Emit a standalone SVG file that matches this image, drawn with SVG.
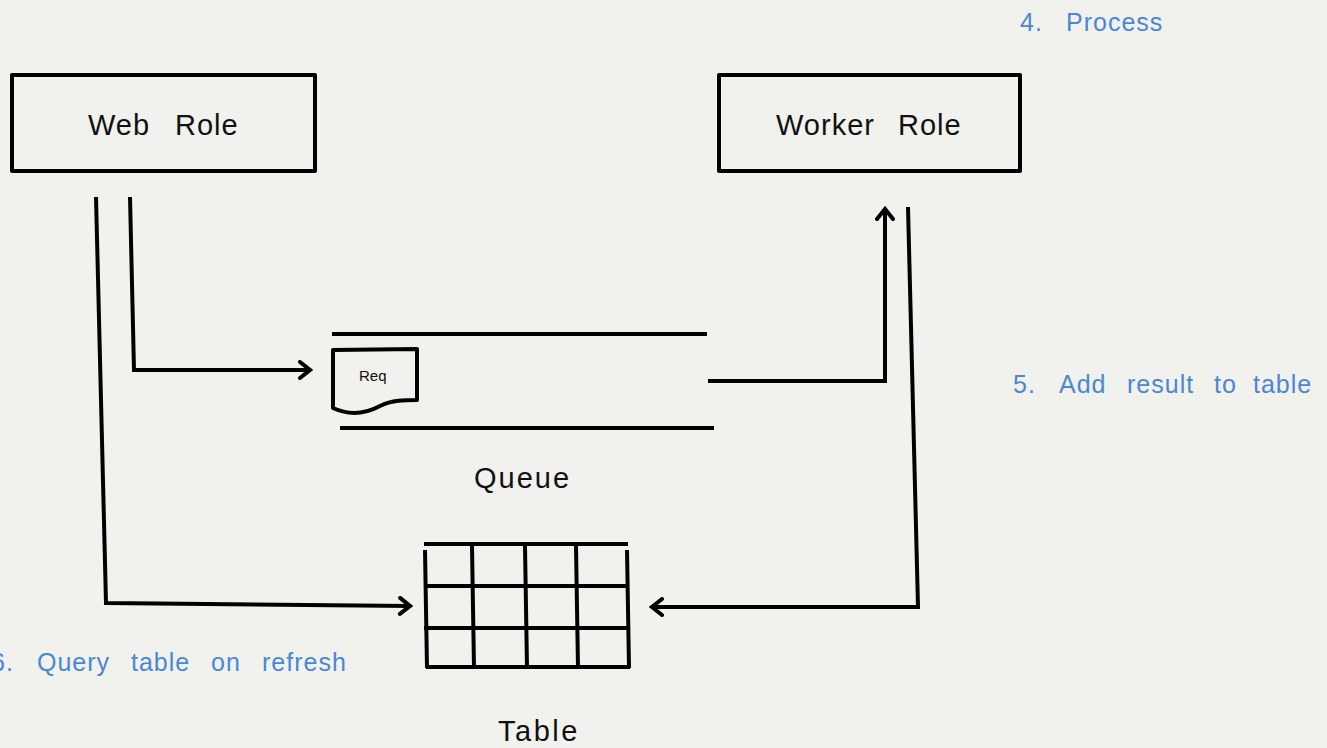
<svg xmlns="http://www.w3.org/2000/svg" width="1327" height="748" viewBox="0 0 1327 748">
<style>
.box{fill:none;stroke:#000;stroke-width:4;stroke-linejoin:round}
.ln{fill:none;stroke:#000;stroke-width:4;stroke-linejoin:miter}
.lbl{font-family:"Liberation Sans",Arial,sans-serif;fill:#111;font-size:29px;letter-spacing:1px}
.note{font-family:"Liberation Sans",Arial,sans-serif;fill:#4a87d6;font-size:25px;letter-spacing:1px}
</style>
<defs>
<marker id="ah" viewBox="0 0 20 20" refX="17" refY="10" markerWidth="20" markerHeight="20" markerUnits="userSpaceOnUse" orient="auto">
<path d="M7,2 L17,10 L7,18" fill="none" stroke="#000" stroke-width="4" stroke-linecap="round" stroke-linejoin="miter"/>
</marker>
</defs>
<rect width="1327" height="748" fill="#f1f1ed"/>
<g id="web-role">
<rect class="box" x="12" y="75" width="303" height="96"/>
<text class="lbl" y="135"><tspan x="88">Web</tspan><tspan x="175">Role</tspan></text>
</g>
<g id="worker-role">
<rect class="box" x="719" y="75" width="301" height="96"/>
<text class="lbl" y="135"><tspan x="776">Worker</tspan><tspan x="898">Role</tspan></text>
</g>
<g id="queue">
<line class="ln" x1="332" y1="334" x2="707" y2="334"/>
<line class="ln" x1="340" y1="428" x2="714" y2="428"/>
<path class="box" d="M333,350 L333,408 C350,416 365,414 380,406 C392,400 405,400 417,400 L417,349 Z"/>
<text class="lbl" x="359" y="381" style="font-size:15px;letter-spacing:0">Req</text>
<text class="lbl" x="474" y="488" style="letter-spacing:2px">Queue</text>
</g>
<g id="table">
<line class="ln" x1="424" y1="544" x2="628" y2="544"/>
<line class="ln" x1="425" y1="550" x2="427" y2="668"/>
<line class="ln" x1="472" y1="546" x2="474" y2="668"/>
<line class="ln" x1="525" y1="546" x2="527" y2="668"/>
<line class="ln" x1="576" y1="546" x2="578" y2="668"/>
<line class="ln" x1="627" y1="550" x2="629" y2="668"/>
<line class="ln" x1="424" y1="586" x2="628" y2="586"/>
<line class="ln" x1="424" y1="628" x2="628" y2="628"/>
<line class="ln" x1="426" y1="667" x2="630" y2="667"/>
<text class="lbl" x="498" y="741" style="letter-spacing:2.5px">Table</text>
</g>
<g id="connectors">
<path class="ln" d="M130,197 L134,370 L310,370" marker-end="url(#ah)"/>
<path class="ln" d="M96,197 L106,603 L410,606" marker-end="url(#ah)"/>
<path class="ln" d="M708,381 L885,381 L885,209" marker-end="url(#ah)"/>
<path class="ln" d="M908,207 L918,607 L652,607" marker-end="url(#ah)"/>
</g>
<g id="notes">
<text class="note" y="31"><tspan x="1020">4.</tspan><tspan x="1066">Process</tspan></text>
<text class="note" y="393"><tspan x="1013">5.</tspan><tspan x="1059">Add</tspan><tspan x="1127">result</tspan><tspan x="1214">to</tspan><tspan x="1253">table</tspan></text>
<text class="note" y="671"><tspan x="-9">6.</tspan><tspan x="37">Query</tspan><tspan x="131">table</tspan><tspan x="211">on</tspan><tspan x="262">refresh</tspan></text>
</g>
</svg>
